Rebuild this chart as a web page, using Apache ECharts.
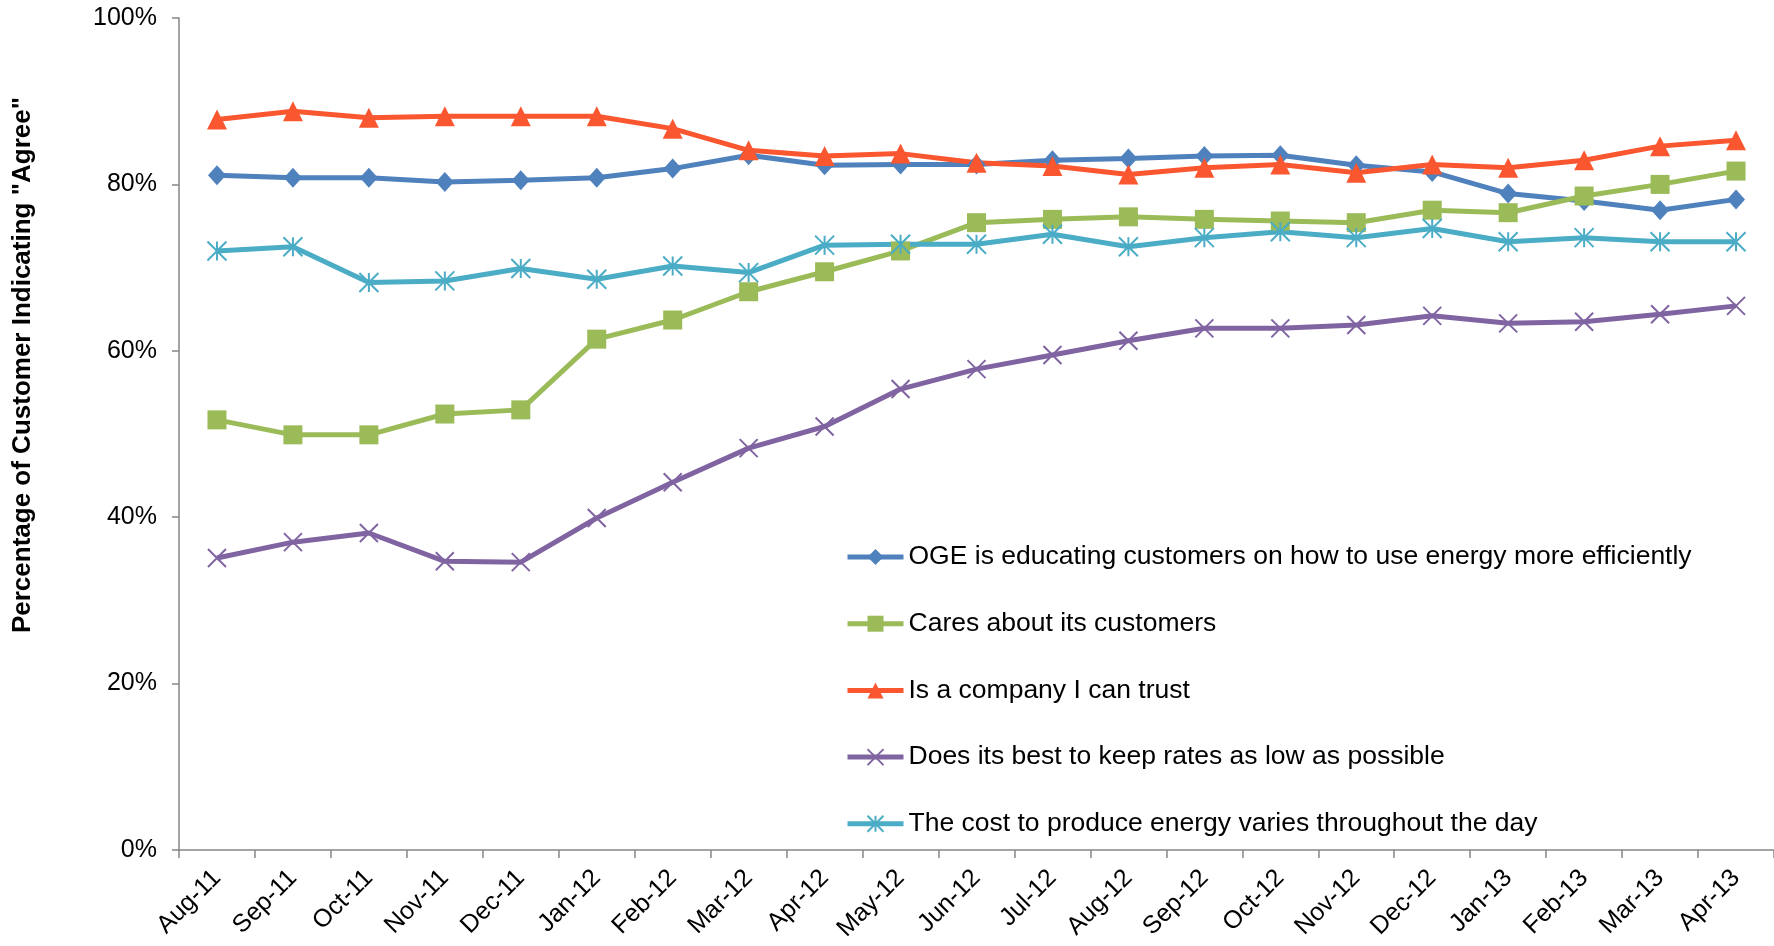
<!DOCTYPE html>
<html>
<head>
<meta charset="utf-8">
<script src="https://cdn.jsdelivr.net/npm/echarts@6/dist/echarts.min.js"></script>
<style>
html,body{margin:0;padding:0;background:#fff;}
#chart{width:1774px;height:946px;}
</style>
</head>
<body>
<div id="chart"></div>
<script>
const categories = ["Aug-11","Sep-11","Oct-11","Nov-11","Dec-11","Jan-12","Feb-12","Mar-12","Apr-12","May-12","Jun-12","Jul-12","Aug-12","Sep-12","Oct-12","Nov-12","Dec-12","Jan-13","Feb-13","Mar-13","Apr-13"];
const educating = [81.1,80.8,80.8,80.3,80.5,80.8,81.9,83.5,82.3,82.4,82.4,82.9,83.1,83.4,83.5,82.3,81.5,78.9,78.0,76.9,78.2];
const cares = [51.7,49.9,49.9,52.4,52.9,61.4,63.7,67.1,69.5,72.0,75.4,75.8,76.1,75.8,75.6,75.4,76.9,76.6,78.6,80.0,81.6];
const trust = [87.8,88.8,88.0,88.2,88.2,88.2,86.7,84.1,83.4,83.7,82.6,82.2,81.2,82.0,82.4,81.4,82.4,82.0,82.9,84.6,85.3];
const rates = [35.1,37.0,38.1,34.7,34.6,39.9,44.2,48.3,50.9,55.4,57.8,59.5,61.2,62.7,62.7,63.1,64.2,63.3,63.5,64.4,65.4];
const cost = [72.0,72.5,68.2,68.4,69.9,68.6,70.2,69.4,72.7,72.8,72.8,74.0,72.5,73.6,74.3,73.6,74.7,73.1,73.6,73.1,73.1];
const seriesNames = [
  "OGE is educating customers on how to use energy more efficiently",
  "Cares about its customers",
  "Is a company I can trust",
  "Does its best to keep rates as low as possible",
  "The cost to produce energy varies throughout the day"
];
const yTicks = [0,20,40,60,80,100];
const yTitle = 'Percentage of Customer Indicating "Agree"';

const FONT = '"Liberation Sans", Arial, sans-serif';
const chart = echarts.init(document.getElementById('chart'), null, {renderer:'canvas'});

function mkSeries(name, data, color, symbol, size, stroke) {
  const s = {
    name: name, type: 'line', data: data,
    symbol: symbol, symbolSize: size, showSymbol: true,
    lineStyle: {color: color, width: 5},
    itemStyle: {color: color},
    emphasis: {disabled: true},
    animation: false
  };
  if (stroke) {
    s.itemStyle = {color: color, borderColor: color, borderWidth: 2};
  }
  return s;
}

const option = {
  backgroundColor: '#ffffff',
  animation: false,
  grid: {left: 179, right: 0, top: 18, bottom: 96, containLabel: false},
  xAxis: {
    type: 'category', data: categories, boundaryGap: true,
    axisLine: {lineStyle: {color: '#868686', width: 1.5}},
    axisTick: {show: true, length: 8, interval: 0, lineStyle: {color: '#868686', width: 1.5}},
    axisLabel: {interval: 0, rotate: 45, margin: 24, color: '#000', fontSize: 25, fontFamily: FONT},
    splitLine: {show: false}
  },
  yAxis: {
    type: 'value', min: 0, max: 100, interval: 20,
    axisLine: {show: true, lineStyle: {color: '#868686', width: 1.5}},
    axisTick: {show: true, length: 7, lineStyle: {color: '#868686', width: 1.5}},
    axisLabel: {formatter: '{value}%', margin: 22, color: '#000', fontSize: 25, fontFamily: FONT},
    splitLine: {show: false}
  },
  legend: {
    orient: 'vertical', left: 840, top: 538,
    itemWidth: 56, itemHeight: 20, itemGap: 38.7,
    lineStyle: {width: 5},
    textStyle: {color: '#000', fontSize: 26.5, lineHeight: 28, fontFamily: FONT, padding: [0,0,0,0]},
    data: seriesNames
  },
  graphic: [{
    type: 'text', x: 23, y: 365, rotation: Math.PI/2,
    style: {text: yTitle, fill: '#000', font: 'bold 26px ' + FONT, textAlign: 'center', textVerticalAlign: 'middle'}
  }],
  series: [
    mkSeries(seriesNames[0], educating, '#4F81BD', 'diamond', [18,20]),
    mkSeries(seriesNames[1], cares, '#9BBB59', 'rect', 19),
    mkSeries(seriesNames[2], trust, '#FA5731', 'triangle', 20),
    mkSeries(seriesNames[3], rates, '#8064A2', 'path://M0,0L10,10M10,0L0,10', 18, true),
    mkSeries(seriesNames[4], cost, '#4BACC6', 'path://M0,0L10,10M10,0L0,10M5,0L5,10', 19, true)
  ]
};
chart.setOption(option);
</script>
</body>
</html>
